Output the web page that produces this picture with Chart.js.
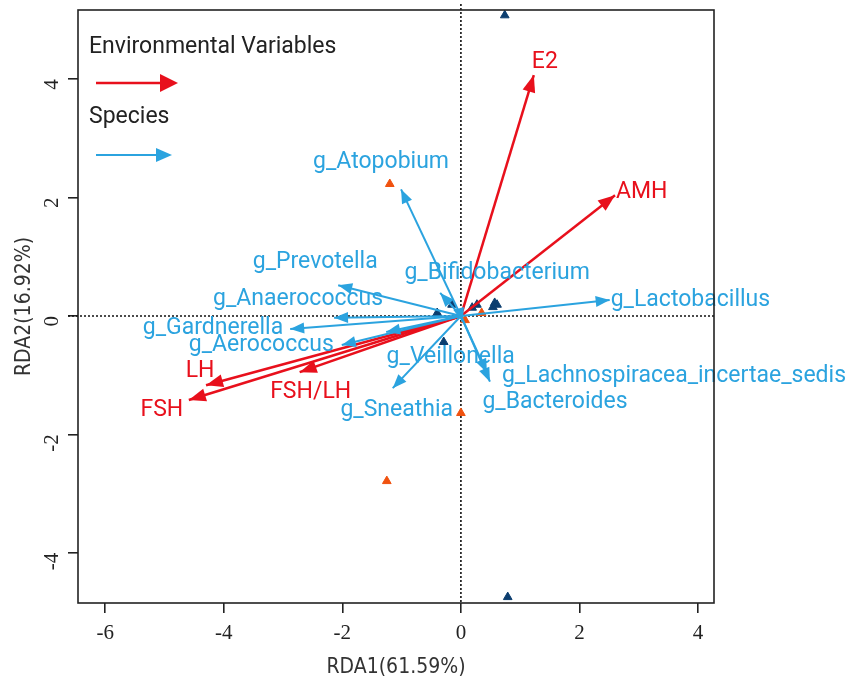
<!DOCTYPE html>
<html>
<head>
<meta charset="utf-8">
<script src="https://cdn.jsdelivr.net/npm/chart.js@4/dist/chart.umd.min.js"></script>
<style>
  html, body { margin: 0; padding: 0; background: #fff; }
  #wrap { width: 853px; height: 680px; }
</style>
</head>
<body>
<div id="wrap"><canvas id="rdaChart" width="853" height="680"></canvas></div>
<script>
// environmental variables (red arrows)
const envNames = ['E2', 'AMH', 'LH', 'FSH', 'FSH/LH'];
const envX = [1.23, 2.60, -4.30, -4.59, -2.72];
const envY = [4.07, 2.04, -1.17, -1.42, -0.95];

// species (blue arrows)
const spNames = ['g_Atopobium', 'g_Prevotella', 'g_Anaerococcus', 'g_Gardnerella', 'g_Aerococcus', '',
  'g_Sneathia', 'g_Bifidobacterium', 'g_Lactobacillus', 'g_Veillonella',
  'g_Lachnospiracea_incertae_sedis', 'g_Bacteroides'];
const spX = [-1.01, -2.07, -2.14, -2.88, -2.01, -1.26, -1.15, -0.35, 2.51, 0.03, 0.49, 0.44];
const spY = [2.14, 0.52, -0.03, -0.22, -0.49, -0.27, -1.22, 0.39, 0.27, -0.10, -1.11, -0.96];

// samples (triangles), two groups
const groupAX = [0.74, 0.79, -0.29, -0.40, -0.15, 0.19, 0.27, 0.54, 0.57, 0.61];
const groupAY = [5.08, -4.75, -0.44, 0.05, 0.19, 0.14, 0.19, 0.15, 0.22, 0.19];
const groupBX = [-1.20, -1.25, 0.00, 0.07, 0.35];
const groupBY = [2.23, -2.79, -1.64, -0.07, 0.05];

// axis ticks
const xTicks = [-6, -4, -2, 0, 2, 4];
const yTicks = [-4, -2, 0, 2, 4];

const RED = '#e8101c';
const BLUE = '#2ba3df';
const FONT = 'Roboto, "Open Sans", sans-serif';

// label placement relative to arrow tip (pixels)
const envLabelPos = {
  'E2': [11, -13, 'center'], 'AMH': [1, -3, 'left'], 'LH': [-6, -14, 'center'],
  'FSH': [-27, 10, 'center'], 'FSH/LH': [11, 20, 'center']
};
const spLabelPos = {
  'g_Atopobium': [-20, -27, 'center'], 'g_Prevotella': [-23, -23, 'center'],
  'g_Anaerococcus': [-36, -18, 'center'], 'g_Gardnerella': [-7, -1, 'right'],
  'g_Aerococcus': [-8, 0, 'right'], 'g_Sneathia': [4, 22, 'center'],
  'g_Bifidobacterium': [57, -20, 'center'], 'g_Lactobacillus': [1, 0, 'left'],
  'g_Veillonella': [-12, 35, 'center'], 'g_Lachnospiracea_incertae_sedis': [12, -5, 'left'],
  'g_Bacteroides': [68, 29, 'center']
};

function arrowSets(names, xs, ys, color, width) {
  return names.map((n, i) => ({
    label: n,
    kind: color === RED ? 'env' : 'sp',
    data: [{x: 0, y: 0}, {x: xs[i], y: ys[i]}],
    showLine: true,
    borderColor: color,
    borderWidth: width,
    pointRadius: 0,
    pointHoverRadius: 0
  }));
}

function pts(xs, ys) { return xs.map((x, i) => ({x: x, y: ys[i]})); }

function drawHead(ctx, x0, y0, x1, y1, len, half, color) {
  const a = Math.atan2(y1 - y0, x1 - x0);
  ctx.save();
  ctx.fillStyle = color;
  ctx.beginPath();
  ctx.moveTo(x1, y1);
  ctx.lineTo(x1 - len * Math.cos(a) + half * Math.sin(a), y1 - len * Math.sin(a) - half * Math.cos(a));
  ctx.lineTo(x1 - len * Math.cos(a) - half * Math.sin(a), y1 - len * Math.sin(a) + half * Math.cos(a));
  ctx.closePath();
  ctx.fill();
  ctx.restore();
}

const rdaPlugin = {
  id: 'rdaPlugin',
  beforeDatasetsDraw(chart) {
    const {ctx, chartArea: a, scales: {x, y}} = chart;
    ctx.save();
    ctx.strokeStyle = '#111';
    ctx.lineWidth = 1.6;
    ctx.setLineDash([2, 2]);
    const x0 = x.getPixelForValue(0), y0 = y.getPixelForValue(0);
    ctx.beginPath();
    ctx.moveTo(x0, a.top - 6); ctx.lineTo(x0, a.bottom);
    ctx.moveTo(a.left - 10, y0); ctx.lineTo(a.right, y0);
    ctx.stroke();
    ctx.restore();
  },
  afterDatasetsDraw(chart) {
    const {ctx, chartArea: a} = chart;
    chart.data.datasets.forEach((ds, i) => {
      if (!ds.kind) return;
      const el = chart.getDatasetMeta(i).data;
      const p0 = el[0], p1 = el[1];
      const isEnv = ds.kind === 'env';
      drawHead(ctx, p0.x, p0.y, p1.x, p1.y, isEnv ? 17 : 14, isEnv ? 6.5 : 5.5, isEnv ? RED : BLUE);
      const pos = (isEnv ? envLabelPos : spLabelPos)[ds.label];
      if (!pos) return;
      ctx.save();
      ctx.font = '23px ' + FONT;
      ctx.fillStyle = isEnv ? RED : BLUE;
      ctx.textAlign = pos[2];
      ctx.textBaseline = 'middle';
      ctx.fillText(ds.label, p1.x + pos[0], p1.y + pos[1]);
      ctx.restore();
    });

    // legend
    ctx.save();
    ctx.font = '23px ' + FONT;
    ctx.fillStyle = '#222';
    ctx.textAlign = 'left';
    ctx.textBaseline = 'middle';
    ctx.fillText('Environmental Variables', a.left + 11, 47);
    ctx.fillText('Species', a.left + 11, 117);
    ctx.lineWidth = 2.5;
    ctx.strokeStyle = RED;
    ctx.beginPath(); ctx.moveTo(a.left + 18, 83); ctx.lineTo(a.left + 86, 83); ctx.stroke();
    drawHead(ctx, a.left + 18, 83, a.left + 100, 83, 18, 9, RED);
    ctx.lineWidth = 2;
    ctx.strokeStyle = BLUE;
    ctx.beginPath(); ctx.moveTo(a.left + 18, 155); ctx.lineTo(a.left + 84, 155); ctx.stroke();
    drawHead(ctx, a.left + 18, 155, a.left + 94, 155, 16, 7, BLUE);
    ctx.restore();

    // frame
    ctx.save();
    ctx.strokeStyle = '#222';
    ctx.lineWidth = 1.6;
    ctx.strokeRect(a.left, a.top, a.right - a.left, a.bottom - a.top);
    ctx.restore();
  }
};

const tickFont = {family: '"Liberation Serif", "DejaVu Serif", serif', size: 21};
const titleFont = {family: '"Liberation Sans Narrow", "DejaVu Sans Condensed", sans-serif', size: 21};

new Chart(document.getElementById('rdaChart').getContext('2d'), {
  type: 'scatter',
  data: {
    datasets: [
      ...arrowSets(spNames, spX, spY, BLUE, 2),
      ...arrowSets(envNames, envX, envY, RED, 2.5),
      {
        label: 'group A',
        data: pts(groupAX, groupAY),
        pointStyle: 'triangle',
        pointRadius: 5,
        backgroundColor: '#0c3e6f',
        borderColor: '#0c3e6f',
        borderWidth: 1
      },
      {
        label: 'group B',
        data: pts(groupBX, groupBY),
        pointStyle: 'triangle',
        pointRadius: 5,
        backgroundColor: '#f0520f',
        borderColor: '#f0520f',
        borderWidth: 1
      }
    ]
  },
  options: {
    responsive: false,
    animation: false,
    layout: {padding: {left: 0, right: 139, top: 10, bottom: 0}},
    plugins: {legend: {display: false}, tooltip: {enabled: false}},
    scales: {
      x: {
        type: 'linear',
        min: -6.46,
        max: 4.27,
        afterFit: s => { s.height = 77; s.paddingLeft = 0; s.paddingRight = 0; },
        afterBuildTicks: s => { s.ticks = xTicks.map(v => ({value: v})); },
        border: {display: false},
        grid: {drawOnChartArea: false, tickLength: 10, color: '#222', lineWidth: 1.6},
        ticks: {includeBounds: false, font: tickFont, color: '#222', padding: 8, maxRotation: 0},
        title: {display: true, text: 'RDA1(61.59%)', font: titleFont, color: '#333', padding: {top: 4, bottom: 0}}
      },
      y: {
        type: 'linear',
        min: -4.85,
        max: 5.17,
        afterFit: s => { s.width = 78; s.paddingTop = 0; s.paddingBottom = 0; },
        afterBuildTicks: s => { s.ticks = yTicks.map(v => ({value: v})); },
        border: {display: false},
        grid: {drawOnChartArea: false, tickLength: 10, color: '#222', lineWidth: 1.6},
        ticks: {includeBounds: false, font: tickFont, color: '#222', padding: 16, minRotation: 90, maxRotation: 90},
        title: {display: true, text: 'RDA2(16.92%)', font: titleFont, color: '#333', padding: {top: 12, bottom: 2}}
      }
    }
  },
  plugins: [rdaPlugin]
});
</script>
</body>
</html>
